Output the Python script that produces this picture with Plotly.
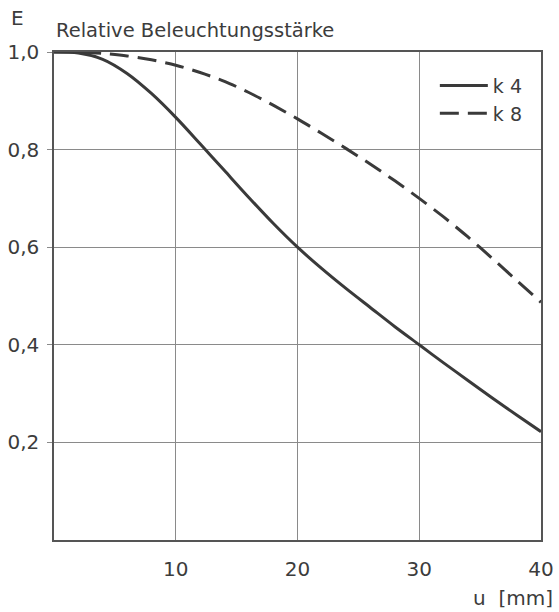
import plotly.graph_objects as go

# Data
u_mm = [0, 2, 4, 6, 8, 10, 12, 14, 16, 18, 20, 22, 24, 26, 28, 30, 32, 34, 36, 38, 40]
k4 = [1.0, 0.998, 0.985, 0.956, 0.915, 0.866, 0.812, 0.757, 0.702, 0.649, 0.600,
      0.556, 0.515, 0.476, 0.437, 0.400, 0.363, 0.327, 0.291, 0.256, 0.222]
k8 = [1.0, 1.0, 0.997, 0.992, 0.984, 0.973, 0.958, 0.940, 0.917, 0.891, 0.863,
      0.833, 0.802, 0.770, 0.736, 0.700, 0.662, 0.621, 0.577, 0.532, 0.487]

x_tickvals = [10, 20, 30, 40]
x_ticktext = ["10", "20", "30", "40"]
y_tickvals = [0.2, 0.4, 0.6, 0.8, 1.0]
y_ticktext = ["0,2", "0,4", "0,6", "0,8", "1,0"]

FONT = "DejaVu Sans"
TXT = "#3c3c3c"
LINE = "#3a3a3a"
GRID = "#8a8a8a"

fig = go.Figure()
fig.add_trace(go.Scatter(x=u_mm, y=k4, mode="lines", name="k 4",
                         line=dict(color=LINE, width=3, shape="spline", smoothing=0.8)))
fig.add_trace(go.Scatter(x=u_mm, y=k8, mode="lines", name="k 8",
                         line=dict(color=LINE, width=3, dash="19px,9px", shape="spline", smoothing=0.8)))

fig.update_layout(
    width=559, height=612,
    margin=dict(l=54, r=18, t=52, b=72),
    paper_bgcolor="white", plot_bgcolor="white",
    font=dict(family=FONT, color=TXT, size=20),
    showlegend=True,
    legend=dict(x=0.782, y=0.97, xanchor="left", yanchor="top",
                bgcolor="rgba(0,0,0,0)", font=dict(size=19, color=TXT),
                itemwidth=48, tracegroupgap=0),
    xaxis=dict(range=[0, 40], tickvals=x_tickvals, ticktext=x_ticktext,
               showgrid=True, gridcolor=GRID, gridwidth=1,
               showline=True, linecolor="#555555", linewidth=1.5, mirror=True,
               ticks="", ticklabelstandoff=10, zeroline=False, automargin=False,
               tickfont=dict(size=20, color=TXT)),
    yaxis=dict(range=[0, 1.0], tickvals=y_tickvals, ticktext=y_ticktext,
               showgrid=True, gridcolor=GRID, gridwidth=1,
               showline=True, linecolor="#555555", linewidth=1.5, mirror=True,
               ticks="outside", ticklen=5, tickcolor=GRID, ticklabelstandoff=4,
               zeroline=False, automargin=False, tickfont=dict(size=20, color=TXT)),
    annotations=[
        dict(text="E", xref="paper", yref="paper", x=-0.075, y=1.0,
             xanchor="center", yanchor="middle", yshift=34, showarrow=False,
             font=dict(size=20, color=TXT)),
        dict(text="Relative Beleuchtungsstärke", xref="paper", yref="paper",
             x=0.0, y=1.0, xanchor="left", yanchor="middle", yshift=22,
             showarrow=False, font=dict(size=19.5, color=TXT)),
        dict(text="u  [mm]", xref="paper", yref="paper", x=1.029, y=0.0,
             xanchor="right", yanchor="middle", yshift=-58, showarrow=False,
             font=dict(size=20, color=TXT)),
    ],
)

fig.write_html("out.html", config={"displayModeBar": False},
               post_script="document.body.style.margin='0';document.body.style.overflow='hidden';")
